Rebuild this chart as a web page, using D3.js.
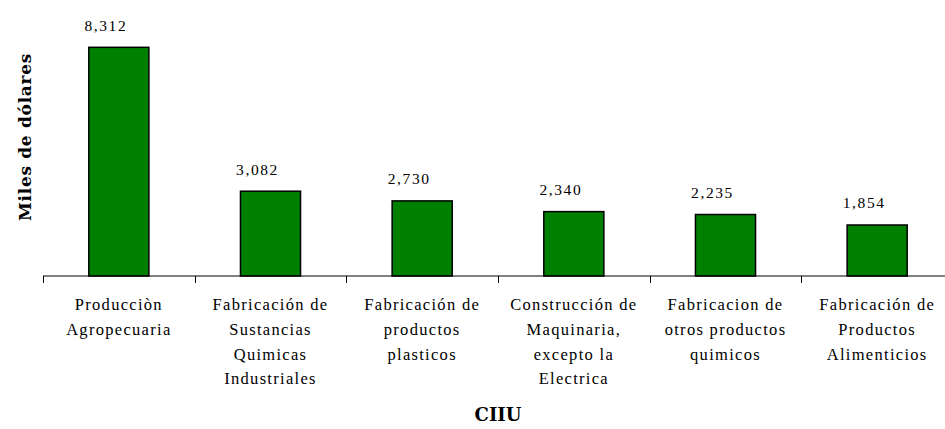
<!doctype html>
<html>
<head>
    <meta charset="utf-8">
    <style>
        body { margin: 0; background: #fff; }
        .bar { fill: #008000; stroke: #000; stroke-width: 1.5px; }
        .val { font-family: "Liberation Serif", serif; font-size: 15.5px; letter-spacing: 1.6px; fill: #000; }
        .cat { font-family: "Liberation Serif", serif; font-size: 16.5px; letter-spacing: 1.3px; fill: #000; }
        .title { font-family: "DejaVu Serif", "Liberation Serif", serif; font-weight: bold; fill: #000; }
</style>
    <script src="https://d3js.org/d3.v7.min.js"></script>
</head>
<body>
    <svg width="945" height="429"></svg>
    <script>
        // data
        var categories = [
            "Producciòn|Agropecuaria",
            "Fabricación de|Sustancias|Quimicas|Industriales",
            "Fabricación de|productos|plasticos",
            "Construcción de|Maquinaria,|excepto la|Electrica",
            "Fabricacion de|otros productos|quimicos",
            "Fabricación de|Productos|Alimenticios"
        ];
        var values = [8312, 3082, 2730, 2340, 2235, 1854];
        var yTitle = "Miles de dólares";
        var xTitle = "CIIU";

        var svg = d3.select("svg");
        var baseY = 276;

        var x = d3.scaleBand().domain(categories).range([43, 953]).padding(0);
        var y = d3.scaleLinear().domain([0, 9000]).range([baseY, 28.4]);

        var barW = x.bandwidth() * 0.396;

        var g = svg.append("g");

        // bars
        g.selectAll(".bar")
         .data(categories)
         .enter().append("rect")
         .attr("class", "bar")
         .attr("x", function(d) { return x(d) + (x.bandwidth() - barW) / 2; })
         .attr("y", function(d, i) { return y(values[i]); })
         .attr("width", barW)
         .attr("height", function(d, i) { return baseY - y(values[i]); });

        // value labels
        g.selectAll(".val")
         .data(categories)
         .enter().append("text")
         .attr("class", "val")
         .attr("text-anchor", "middle")
         .attr("x", function(d) { return x(d) + x.bandwidth() / 2 - 13; })
         .attr("y", function(d, i) { return y(values[i]) - 16.5; })
         .text(function(d, i) { return d3.format(",")(values[i]); });

        // x axis line + boundary ticks
        g.append("line")
         .attr("x1", x.range()[0]).attr("x2", x.range()[1])
         .attr("y1", baseY).attr("y2", baseY)
         .attr("stroke", "#000").attr("stroke-width", 1);

        var bounds = categories.map(function(d) { return x(d); }).concat([x.range()[1]]);
        g.selectAll(".tick")
         .data(bounds)
         .enter().append("line")
         .attr("class", "tick")
         .attr("x1", function(d) { return Math.round(d) + 0.5; })
         .attr("x2", function(d) { return Math.round(d) + 0.5; })
         .attr("y1", baseY).attr("y2", baseY + 7)
         .attr("stroke", "#000").attr("stroke-width", 1);

        // category labels
        var cats = g.selectAll(".cat")
         .data(categories)
         .enter().append("text")
         .attr("class", "cat")
         .attr("text-anchor", "middle")
         .attr("transform", function(d) { return "translate(" + (x(d) + x.bandwidth() / 2) + ",310)"; });

        cats.selectAll("tspan")
            .data(function(d) { return d.split("|"); })
            .enter().append("tspan")
            .attr("x", 0)
            .attr("y", function(d, i) { return i * 24.8; })
            .text(function(d) { return d; });

        // axis titles
        svg.append("text")
           .attr("class", "title")
           .attr("font-size", "17px")
           .attr("letter-spacing", "0.7px")
           .attr("text-anchor", "middle")
           .attr("transform", "translate(31,137) rotate(-90)")
           .text(yTitle);

        svg.append("text")
           .attr("class", "title")
           .attr("font-size", "18px")
           .attr("text-anchor", "middle")
           .attr("x", (x.range()[0] + x.range()[1]) / 2)
           .attr("y", 421)
           .text(xTitle);
</script>
</body>
</html>
